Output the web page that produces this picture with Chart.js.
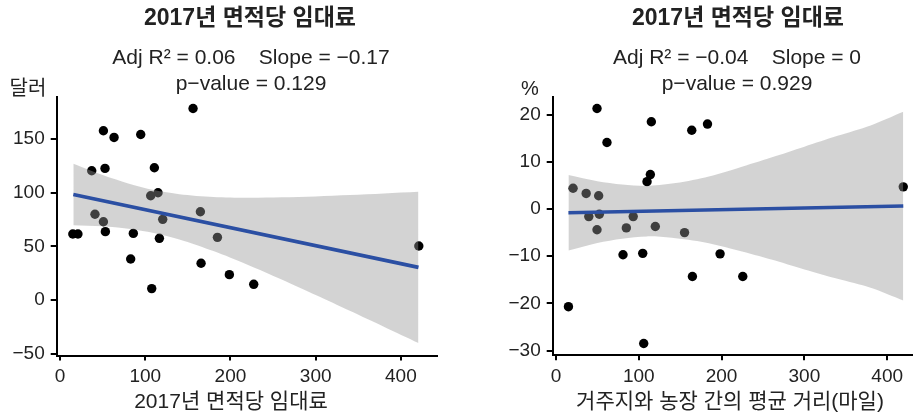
<!DOCTYPE html>
<html>
<head>
<meta charset="utf-8">
<script src="https://cdn.jsdelivr.net/npm/chart.js@4.4.1/dist/chart.umd.min.js"></script>
<style>
  html, body { margin: 0; padding: 0; background: #fff; }
  #wrap { position: relative; width: 917px; height: 414px; }
  canvas { position: absolute; top: 0; }
  #rent-chart { left: 0; }
  #dist-chart { left: 458px; }
</style>
</head>
<body>
<div id="wrap">
  <canvas id="rent-chart" width="458" height="414"></canvas>
  <canvas id="dist-chart" width="459" height="414"></canvas>
</div>
<script>
// left panel: rent per area
const rentX = [15, 21, 37.2, 41, 50.9, 50.9, 52.8, 53.2, 63.4, 82.9, 86, 94.7, 106.4,
  107.6, 110.7, 115, 116.6, 120.5, 156.1, 164.7, 165.5, 184.7, 198.7, 227.3, 421];
const rentY = [61.5, 61.5, 120.5, 80, 157.8, 73, 122.7, 63.7, 151.6, 38.2, 62.1, 154.3, 97.2,
  10.6, 123.3, 100, 57.5, 75.2, 178.6, 82.3, 34.2, 58.4, 23.6, 14.6, 50.3];
const rentFitX = [15.6, 420.6];
const rentFitY = [98.4, 30.4];
const rentBandX = [15.6, 50, 80, 110, 140, 180, 220, 260, 300, 340, 380, 420.6];
const rentBandHi = [127.1, 116.5, 108.7, 102.5, 98.6, 96.0, 95.3, 95.7, 96.6, 97.9, 99.4, 101.0];
const rentBandLo = [69.7, 68.7, 66.5, 62.5, 56.4, 45.6, 32.9, 19.1, 4.6, -10.1, -25.0, -40.2];
const rentYTicks = [-50, 0, 50, 100, 150];

// right panel: change (%) vs distance
const distX = [15.1, 20.7, 36.5, 39.7, 49.6, 49.6, 51.6, 52.4, 61.6, 81, 85, 93.3, 104.8,
  106, 110, 114, 115.2, 120, 155.3, 164, 164.8, 183, 198.2, 225.6, 419.4];
const distY = [-20.7, 4.4, 3.3, -1.6, 21.3, -4.4, 2.8, -1.1, 14.1, -9.7, -4.0, -1.6, -9.4,
  -28.5, 5.8, 7.3, 18.5, -3.7, -5.0, 16.7, -14.3, 18.0, -9.5, -14.3, 4.7];
const distFitX = [15.1, 419.4];
const distFitY = [-0.78, 0.64];
const distBandX = [15.1, 50, 80, 110, 140, 180, 220, 260, 300, 340, 380, 419.4];
const distBandHi = [7.2, 5.9, 5.2, 4.9, 5.4, 6.7, 8.7, 10.9, 13.2, 15.5, 17.7, 20.6];
const distBandLo = [-8.8, -7.2, -6.3, -5.8, -6.1, -7.1, -8.8, -10.7, -12.8, -14.8, -16.7, -19.4];
const distYTicks = [-30, -20, -10, 0, 10, 20];

const xTicks = [0, 100, 200, 300, 400];

const FONT = "'Liberation Sans', 'Noto Sans CJK KR', sans-serif";
const INK = "#222";

function pts(xs, ys) {
  return xs.map((x, i) => ({ x: x, y: ys[i] }));
}

function minus(v) {
  return String(v).replace("-", "\u2212");
}

// titles, unit label and x title drawn at fixed spots
const headerPlugin = {
  id: "header",
  afterDraw(chart, args, opts) {
    const ctx = chart.ctx;
    ctx.save();
    ctx.fillStyle = INK;
    ctx.textAlign = "center";
    ctx.textBaseline = "middle";
    ctx.font = "bold 23px " + FONT;
    ctx.fillText(opts.title, opts.titleX, 19);
    ctx.font = "21px " + FONT;
    ctx.fillText(opts.stats[0], opts.statsX, 58);
    ctx.fillText(opts.stats[1], opts.statsX, 84);
    ctx.font = "20px " + FONT;
    ctx.fillText(opts.unit, opts.unitX, 89);
    ctx.font = "21px " + FONT;
    ctx.fillText(opts.xTitle, opts.xTitleX, 402);
    ctx.restore();
  }
};

function makeChart(id, cfg) {
  const ctx = document.getElementById(id).getContext("2d");
  return new Chart(ctx, {
    type: "scatter",
    data: {
      datasets: [
        {
          data: pts(cfg.x, cfg.y),
          backgroundColor: "#000",
          borderWidth: 0,
          pointRadius: 4.7,
          order: 3
        },
        {
          data: pts(cfg.bandX, cfg.bandHi),
          showLine: true,
          pointRadius: 0,
          borderWidth: 0,
          tension: 0.3,
          backgroundColor: "rgba(150,150,150,0.42)",
          fill: "+1",
          order: 2
        },
        {
          data: pts(cfg.bandX, cfg.bandLo),
          showLine: true,
          pointRadius: 0,
          borderWidth: 0,
          tension: 0.3,
          fill: false,
          order: 2
        },
        {
          data: pts(cfg.fitX, cfg.fitY),
          showLine: true,
          pointRadius: 0,
          borderColor: "#2b4fa3",
          borderWidth: 3.6,
          fill: false,
          order: 1
        }
      ]
    },
    options: {
      responsive: false,
      animation: false,
      layout: {
        padding: { top: 96.7, right: cfg.padRight, left: 0, bottom: 0 }
      },
      plugins: {
        legend: { display: false },
        tooltip: { enabled: false },
        header: cfg.header
      },
      scales: {
        x: {
          type: "linear",
          min: cfg.xMin,
          max: cfg.xMax,
          afterBuildTicks: (s) => { s.ticks = xTicks.map((v) => ({ value: v })); },
          afterFit: (s) => { s.height = 414 - cfg.bottom; },
          grid: { drawOnChartArea: false, drawTicks: true, tickLength: 5, color: "#000", lineWidth: 2 },
          border: { display: true, color: "#000", width: 2 },
          ticks: { color: INK, font: { family: FONT, size: 19 }, padding: 5, maxRotation: 0, callback: minus }
        },
        y: {
          type: "linear",
          min: cfg.yMin,
          max: cfg.yMax,
          afterBuildTicks: (s) => { s.ticks = cfg.yTicks.map((v) => ({ value: v })); },
          afterFit: (s) => { s.width = cfg.left; },
          grid: { drawOnChartArea: false, drawTicks: true, tickLength: 6, color: "#000", lineWidth: 2 },
          border: { display: true, color: "#000", width: 2 },
          ticks: { color: INK, font: { family: FONT, size: 19 }, padding: 6, callback: minus }
        }
      }
    },
    plugins: [headerPlugin]
  });
}

makeChart("rent-chart", {
  x: rentX, y: rentY,
  fitX: rentFitX, fitY: rentFitY,
  bandX: rentBandX, bandHi: rentBandHi, bandLo: rentBandLo,
  yTicks: rentYTicks,
  xMin: -3.9, xMax: 442, yMin: -51.8, yMax: 189.6,
  left: 56.7, bottom: 355.5, padRight: 21.3,
  header: {
    title: "2017년 면적당 임대료", titleX: 250,
    stats: ["Adj R\u00b2 = 0.06    Slope = \u22120.17", "p\u2212value = 0.129"], statsX: 251,
    unit: "달러", unitX: 28,
    xTitle: "2017년 면적당 임대료", xTitleX: 231
  }
});

makeChart("dist-chart", {
  x: distX, y: distY,
  fitX: distFitX, fitY: distFitY,
  bandX: distBandX, bandHi: distBandHi, bandLo: distBandLo,
  yTicks: distYTicks,
  xMin: -3.9, xMax: 430.3, yMin: -31.0, yMax: 23.8,
  left: 94.7, bottom: 355.3, padRight: 0,
  header: {
    title: "2017년 면적당 임대료", titleX: 280,
    stats: ["Adj R\u00b2 = \u22120.04    Slope = 0", "p\u2212value = 0.929"], statsX: 279,
    unit: "%", unitX: 72,
    xTitle: "거주지와 농장 간의 평균 거리(마일)", xTitleX: 272
  }
});
</script>
</body>
</html>
